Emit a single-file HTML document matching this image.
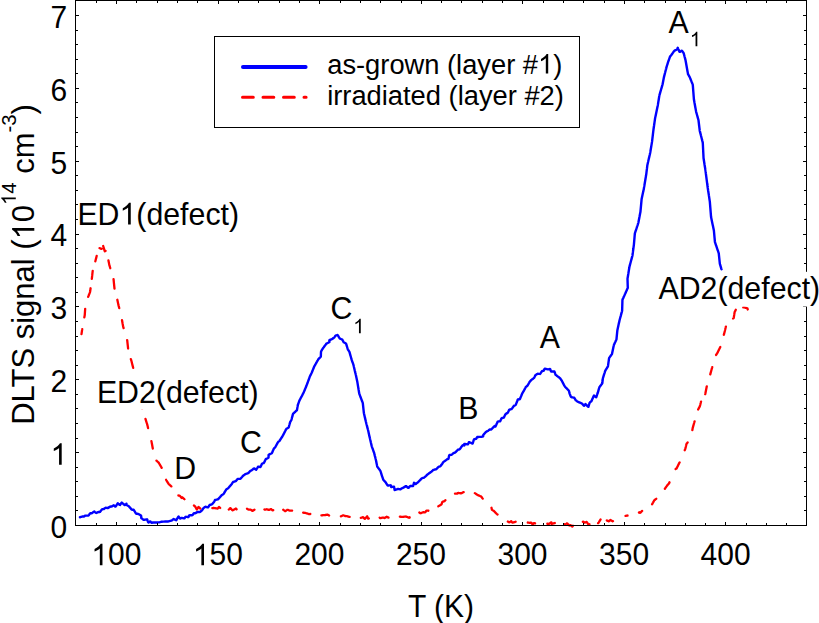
<!DOCTYPE html>
<html><head><meta charset="utf-8"><style>
html,body{margin:0;padding:0;background:#fff;}
body{width:819px;height:623px;overflow:hidden;}
svg{display:block;}
text{font-family:"Liberation Sans",sans-serif;fill:#000;}
</style></head><body>
<svg width="819" height="623" viewBox="0 0 819 623">
<rect width="819" height="623" fill="#fff"/>
<g fill="none" stroke-linejoin="round" stroke-linecap="round">
<path d="M81.49,334.08 L81.57,333.59 L81.64,333.09 L81.71,332.60 L81.78,332.10 L81.86,331.61 L81.93,331.11 L82.00,330.62 L82.07,330.12 L82.15,329.63 L82.22,329.13M84.34,317.33 L84.44,316.83 L84.53,316.34 L84.63,315.85 L84.72,315.36 L84.77,314.86 L84.80,314.37 L84.83,313.87 L84.87,313.37 L84.90,312.87 L84.93,312.37 L84.97,311.87 L85.00,311.37 L85.03,310.87 L85.07,310.37 L85.10,309.88 L85.13,309.38 L85.17,308.88M88.15,296.89 L88.33,296.42 L88.52,295.96 L88.70,295.49 L88.88,295.02 L89.07,294.56 L89.25,294.09 L89.43,293.63 L89.61,293.16 L89.80,292.70 L89.98,292.23 L90.10,291.75 L90.17,291.26 L90.24,290.76 L90.31,290.27 L90.37,289.77 L90.44,289.27 L90.51,288.78 L90.58,288.28M91.83,278.87 L91.88,278.37 L91.94,277.87 L91.99,277.38 L92.05,276.88 L92.10,276.38 L92.15,275.88 L92.21,275.39 L92.26,274.89 L92.32,274.39 L92.37,273.90 L92.42,273.40 L92.48,272.90 L92.53,272.41 L92.59,271.91 L92.64,271.41 L92.70,270.91M95.34,261.28 L95.47,260.80 L95.59,260.32 L95.71,259.83 L95.83,259.34 L95.95,258.86 L96.07,258.37 L96.19,257.89 L96.31,257.40 L96.42,256.92 L96.54,256.43 L96.66,255.94M99.56,248.11 L100.01,248.32 L100.46,248.53 L100.91,248.75 L101.37,248.96 L101.65,248.80M103.18,246.03 L103.33,246.51 L103.47,246.98 L103.61,247.46 L103.76,247.94 L103.90,248.42 L104.05,248.90 L104.19,249.38 L104.34,249.86 L104.48,250.34 L104.63,250.81 L104.77,251.29 L105.16,251.11 L105.58,250.84M108.46,260.45 L108.55,260.94 L108.64,261.43 L108.74,261.92 L108.83,262.41 L108.92,262.90 L109.02,263.39 L109.11,263.89 L109.20,264.38 L109.32,264.86 L109.46,265.34 L109.60,265.82 L109.73,266.30 L109.87,266.78 L110.01,267.26 L110.15,267.74 L110.29,268.23M113.55,279.19 L113.60,279.69 L113.65,280.19 L113.70,280.69 L113.75,281.18 L113.79,281.68 L113.84,282.18 L113.89,282.68 L113.94,283.17 L113.99,283.67 L114.04,284.17 L114.09,284.67 L114.14,285.17 L114.19,285.66 L114.24,286.16 L114.29,286.66 L114.34,287.16 L114.39,287.65 L114.44,288.15 L114.49,288.65M117.34,299.77 L117.44,300.26 L117.55,300.75 L117.65,301.24 L117.75,301.72 L117.86,302.21 L117.96,302.70 L118.07,303.19 L118.17,303.68 L118.28,304.17 L118.38,304.66 L118.49,305.15 L118.61,305.63 L118.73,306.12 L118.86,306.60 L118.98,307.09 L119.10,307.57 L119.22,308.06M122.03,320.23 L122.12,320.72 L122.20,321.21 L122.29,321.71 L122.37,322.20 L122.46,322.69 L122.54,323.19 L122.63,323.68 L122.72,324.17 L122.80,324.66 L122.89,325.16 L122.97,325.65 L123.06,326.14 L123.17,326.63 L123.32,327.11 L123.46,327.59 L123.60,328.06M127.15,340.05 L127.25,340.54 L127.31,341.03 L127.36,341.53 L127.41,342.03 L127.46,342.53 L127.52,343.02 L127.57,343.52 L127.62,344.02 L127.67,344.51 L127.73,345.01 L127.78,345.51 L127.83,346.01 L127.88,346.50 L127.94,347.00 L127.99,347.50 L128.04,348.00 L128.09,348.49M130.87,359.09 L131.02,359.57 L131.17,360.05 L131.32,360.52 L131.47,361.00 L131.59,361.49 L131.71,361.97 L131.83,362.46 L131.95,362.94 L132.07,363.43 L132.19,363.91 L132.31,364.40 L132.43,364.89 L132.55,365.37 L132.67,365.86 L132.79,366.34 L132.91,366.83 L133.03,367.31 L133.15,367.80M134.02,379.66 L134.01,380.16 L134.09,380.66 L134.19,381.15 L134.29,381.63 L134.39,382.12 L134.49,382.61 L134.59,383.10 L134.69,383.59 L134.79,384.08 L134.90,384.57 L135.00,385.06 L135.10,385.55 L135.20,386.04 L135.30,386.53 L135.40,387.02 L135.50,387.51 L135.60,388.00 L135.70,388.49M139.34,399.91 L139.52,400.38 L139.69,400.85 L139.86,401.32 L140.04,401.79 L140.21,402.26 L140.38,402.73 L140.56,403.20 L140.73,403.67 L140.90,404.13 L141.08,404.60 L141.25,405.07 L141.42,405.54 L141.57,406.02 L141.69,406.50 L141.81,406.99 L141.94,407.47 L142.06,407.96 L142.18,408.44M145.47,418.93 L145.63,419.41 L145.78,419.88 L145.92,420.36 L146.07,420.84 L146.22,421.32 L146.37,421.79 L146.51,422.27 L146.66,422.75 L146.81,423.23 L146.96,423.70 L147.11,424.18 L147.25,424.66 L147.40,425.14 L147.51,425.63 L147.62,426.11 L147.73,426.60 L147.83,427.09 L147.94,427.58 L148.05,428.07M151.42,441.12 L151.52,441.62 L151.61,442.11 L151.70,442.60 L151.79,443.09 L151.88,443.58 L151.97,444.07 L152.07,444.57 L152.16,445.06 L152.25,445.55 L152.34,446.04 L152.43,446.53 L152.52,447.02 L152.61,447.51 L152.71,448.01 L152.80,448.50M156.48,460.61 L156.85,460.95 L157.21,461.30 L157.58,461.64 L157.95,461.98 L158.31,462.32 L158.68,462.66 L158.94,463.08 L159.20,463.51 L159.45,463.95 L159.70,464.38 L159.95,464.81 L160.20,465.24 L160.45,465.68 L160.70,466.11 L160.95,466.54 L161.20,466.98 L161.44,467.41 L161.68,467.85M166.09,479.81 L166.33,480.25 L166.60,480.67 L166.86,481.09 L167.13,481.52 L167.39,481.94 L167.66,482.37 L167.92,482.79 L168.19,483.22 L168.45,483.64 L168.74,484.04 L169.11,484.38 L169.48,484.72 L169.85,485.05 L170.22,485.39 L170.59,485.72 L170.96,486.06 L171.33,486.40M178.36,495.52 L178.86,495.55 L179.36,495.57 L179.78,495.73 L180.10,496.12 L180.41,496.51 L180.72,496.90 L181.04,497.29 L181.35,497.68 L181.66,497.93 L181.93,497.51 L182.22,497.26 L182.60,497.59 L182.97,497.92 L183.35,498.25 L183.72,498.59 L184.09,498.92 L184.47,499.25M193.94,505.53 L194.34,505.83 L194.72,506.15 L195.10,506.47 L195.36,506.89 L195.61,507.33 L195.85,507.76 L196.10,508.20 L196.34,508.64 L196.59,509.07 L196.83,509.47 L197.11,509.06 L197.39,508.64 L197.68,508.23 L197.96,507.82 L198.24,507.40 L198.52,506.99 L198.89,507.31 L199.27,507.65 L199.64,507.98 L200.01,508.31 L200.38,508.65M212.35,508.13 L212.85,508.06 L213.34,507.98 L213.83,508.00 L214.33,508.08 L214.82,508.15 L215.32,508.22 L215.81,508.30 L216.31,508.37 L216.80,508.44 L217.30,508.52 L217.76,508.51 L218.07,508.12 L218.39,507.73 L218.70,507.34 L219.01,506.95 L219.38,507.26 L219.74,507.60 L220.11,507.94M228.79,509.49 L229.15,509.30 L229.46,508.91 L229.77,508.52 L230.08,508.13 L230.40,508.11 L230.74,508.48 L231.08,508.85 L231.41,509.22 L231.75,509.59 L232.09,509.96 L232.42,510.33 L232.86,510.15 L233.30,509.92 L233.75,509.69 L234.19,509.46 L234.63,509.23 L235.08,509.00 L235.52,508.77 L235.96,508.54 L236.29,508.82 L236.59,509.22M246.99,508.72 L247.42,508.97 L247.86,509.23 L248.29,509.48 L248.75,509.63 L249.25,509.66 L249.75,509.68 L250.25,509.71 L250.75,509.73 L251.17,509.96 L251.56,510.27 L251.95,510.59 L252.33,510.91 L252.74,510.80 L253.16,510.53 L253.58,510.26 L254.00,509.99 L254.42,509.71M264.42,509.42 L264.87,509.64 L265.32,509.65 L265.79,509.46 L266.25,509.28 L266.72,509.26 L267.20,509.41 L267.67,509.57 L268.15,509.72 L268.63,509.87 L269.09,509.84 L269.55,509.64 L270.01,509.45 L270.47,509.25 L270.93,509.05 L271.32,509.28 L271.69,509.61 L272.07,509.94 L272.44,510.27 L272.82,510.44 L273.19,510.12M283.21,509.78 L283.62,510.06 L284.02,510.35 L284.43,510.64 L284.84,510.93 L285.25,511.19 L285.67,510.92 L286.09,510.64 L286.50,510.37 L286.92,510.10 L287.34,509.82 L287.78,509.81 L288.23,510.03 L288.68,510.24 L289.13,510.45 L289.61,510.57 L290.11,510.58 L290.61,510.59 L291.11,510.61 L291.61,510.62 L292.11,510.63M303.15,512.72 L303.65,512.74 L304.15,512.76 L304.65,512.78 L305.15,512.80 L305.61,512.98 L306.08,513.15 L306.56,513.30 L307.03,513.45 L307.51,513.60 L307.99,513.76 L308.46,513.91 L308.94,514.06 L309.42,514.21 L309.87,514.08 L310.33,513.87M321.41,515.40 L321.90,515.32 L322.40,515.25 L322.89,515.17 L323.39,515.14 L323.89,515.13 L324.39,515.11 L324.89,515.10 L325.38,515.00 L325.87,514.91 L326.36,514.82 L326.85,514.72 L327.34,514.63 L327.79,514.82 L328.23,515.06 L328.66,515.30 L329.10,515.55M340.86,516.29 L341.30,516.17 L341.76,515.96 L342.21,515.75 L342.67,515.54 L343.12,515.34 L343.58,515.28 L344.03,515.49 L344.49,515.69 L344.95,515.89 L345.41,516.09 L345.87,516.22 L346.34,516.06 L346.81,516.10 L347.29,516.26 L347.76,516.42 L348.24,516.58 L348.71,516.73 L349.18,516.89 L349.66,516.84M360.80,517.90 L361.27,517.73 L361.75,517.57 L362.22,517.40 L362.69,517.24 L363.15,517.13 L363.48,517.51 L363.81,517.88 L364.14,518.26 L364.47,518.63 L364.81,518.90 L365.14,518.53 L365.48,518.16 L365.82,517.79 L366.16,517.42 L366.49,517.06 L366.83,516.69 L367.17,516.32 L367.35,516.72 L367.51,517.19 L367.67,517.67 L367.84,518.14 L368.00,518.61 L368.36,518.61 L368.82,518.40M379.65,517.60 L379.96,517.99 L380.34,518.18 L380.83,518.07 L381.32,517.96 L381.81,517.85 L382.29,517.74 L382.78,517.62 L383.27,517.53 L383.72,517.75 L384.17,517.96 L384.61,518.00 L385.03,517.73 L385.45,517.47 L385.87,517.20 L386.29,516.93 L386.72,516.68 L387.16,516.92 L387.60,517.16 L388.04,517.39 L388.48,517.63M399.90,516.62 L400.38,516.74 L400.88,516.77 L401.38,516.81 L401.88,516.84 L402.38,516.88 L402.88,516.85 L403.37,516.80 L403.87,516.75 L404.37,516.70 L404.87,516.65 L405.36,516.54 L405.84,516.52 L406.31,516.69 L406.78,516.86 L407.25,517.04 L407.71,517.21 L408.18,517.39 L408.65,517.56 L409.12,517.74 L409.50,517.71 L409.70,517.25M419.35,512.51 L419.75,512.81 L420.14,513.12 L420.56,513.25 L421.02,513.06 L421.49,512.88 L421.95,512.70 L422.42,512.51 L422.88,512.33 L423.36,512.23 L423.86,512.27 L424.36,512.30 L424.86,512.34 L425.29,512.24 L425.57,511.83 L425.86,511.42 L426.15,511.01 L426.43,510.60 L426.91,510.61 L427.41,510.65 L427.91,510.70 L428.40,510.75M438.33,506.32 L438.76,506.08 L439.20,505.83 L439.64,505.59 L440.07,505.34 L440.50,505.09 L440.93,504.84 L441.37,504.59 L441.59,504.17 L441.74,503.69 L441.89,503.22 L442.05,502.74 L442.20,502.26 L442.42,501.85 L442.90,501.70 L443.37,501.55 L443.85,501.39 L444.32,501.24 L444.70,500.93 L445.03,500.55 L445.36,500.18M454.99,493.62 L455.49,493.63 L455.99,493.65 L456.49,493.66 L456.99,493.67 L457.41,493.55 L457.65,493.11 L458.04,492.94 L458.53,493.00 L459.03,493.06 L459.52,493.13 L460.02,493.19 L460.52,493.25 L461.01,493.31 L461.47,493.17 L461.91,492.93 L462.35,492.69 L462.79,492.45 L463.23,492.21 L463.69,492.07M474.84,493.10 L475.25,493.39 L475.66,493.68 L476.07,493.97 L476.48,494.25 L476.89,494.54 L477.30,494.83 L477.71,495.12 L478.07,495.22 L478.53,495.42 L478.99,495.62 L479.45,495.82 L479.91,496.02 L480.36,496.22 L480.82,496.42 L481.28,496.62 L481.57,497.02 L481.86,497.43 L482.15,497.84 L482.43,498.25 L482.74,498.64M491.49,507.76 L491.59,508.24 L491.70,508.73 L491.81,509.22 L491.91,509.71 L492.22,510.04 L492.66,510.28 L493.11,510.51 L493.55,510.75 L493.95,511.04 L494.30,511.40 L494.64,511.76 L494.99,512.12 L495.34,512.48 L495.68,512.84 L496.03,513.20 L496.38,513.56 L496.72,513.92 L497.13,514.20 L497.56,514.47M507.85,521.58 L508.26,521.85 L508.68,522.13 L509.10,522.40 L509.51,522.26 L509.91,521.97 L510.32,521.68 L510.72,521.38 L511.13,521.09 L511.43,521.44 L511.73,521.85 L512.02,522.25 L512.32,522.65 L512.74,522.65 L513.22,522.50 L513.70,522.35 L514.17,522.20 L514.65,522.05 L515.13,521.90 L515.60,521.74M527.81,522.51 L528.30,522.61 L528.79,522.71 L529.28,522.81 L529.78,522.79 L530.28,522.74 L530.78,522.69 L531.27,522.64 L531.58,523.01 L531.86,523.42 L532.15,523.83 L532.43,524.24 L532.73,524.41 L533.06,524.03 L533.38,523.65 L533.71,523.27 L534.09,523.08 L534.57,523.22 L535.05,523.35M547.36,523.74 L547.76,523.65 L548.20,523.88 L548.64,524.11 L549.06,523.90 L549.46,523.61 L549.87,523.31 L550.27,523.02 L550.67,522.73 L551.08,522.43 L551.39,522.35 L551.46,522.84 L551.53,523.34 L551.60,523.84 L551.94,523.90 L552.42,523.76 L552.89,523.61 L553.37,523.47 L553.85,523.33 L554.33,523.18 L554.81,523.04M564.53,524.19 L564.93,524.49 L565.36,524.37 L565.79,524.12 L566.22,523.86 L566.65,523.61 L567.08,523.35 L567.45,523.69 L567.81,524.03 L568.18,524.37 L568.55,524.71 L568.91,525.05 L569.28,525.39 L569.68,525.48 L570.11,525.24 L570.54,525.10 L570.91,525.44 L571.27,525.78 L571.64,526.12 L572.01,526.46 L572.35,526.53 L572.63,526.13 L572.92,525.72M582.83,521.87 L583.29,521.67 L583.64,521.95 L583.96,522.33 L584.28,522.71 L584.75,522.55 L585.23,522.39 L585.70,522.23 L586.17,522.07 L586.65,521.91 L586.94,522.26 L587.21,522.69 L587.48,523.11 L587.75,523.53 L588.02,523.95 L588.29,524.37 L588.58,524.71 L589.03,524.49 L589.48,524.26M598.11,523.19 L598.48,522.85 L598.76,522.43 L599.02,522.01 L599.28,521.58 L599.54,521.15 L599.80,520.73 L600.06,520.30 L600.32,519.88 L600.59,519.45M606.82,520.40 L607.26,520.63 L607.71,520.86 L608.15,521.09 L608.59,521.32 L608.99,521.20 L609.36,520.86 L609.73,520.53 L610.10,520.19 L610.48,520.00 L610.91,520.26 L611.33,520.53 L611.76,520.79 L612.18,521.05 L612.61,521.31 L612.98,521.09M625.57,515.94 L626.06,515.83 L626.54,515.73 L627.03,515.62 L627.52,515.52M638.96,512.59 L639.28,512.21 L639.65,512.46 L640.02,512.79 L640.38,512.71 L640.73,512.35 L641.07,511.99 L641.42,511.62 L641.76,511.26 L642.11,510.90M652.10,504.29 L652.34,503.85 L652.58,503.41 L652.82,502.97 L653.07,502.54 L653.31,502.10 L653.55,501.66 L653.79,501.22 L654.03,500.79 L654.28,500.35 L654.63,500.01 L655.03,499.71 L655.43,499.41 L655.83,499.11 L656.23,498.81M664.86,488.75 L665.15,488.34 L665.45,487.93 L665.74,487.52 L666.03,487.12 L666.32,486.71 L666.61,486.30 L666.90,485.90 L667.19,485.49 L667.48,485.08 L667.79,484.69 L668.14,484.33 L668.49,483.98 L668.84,483.62 L669.12,483.22 L669.31,482.76 L669.51,482.30M675.61,469.10 L676.04,468.84 L676.47,468.58 L676.72,468.16 L676.94,467.71 L677.16,467.26 L677.38,466.81 L677.60,466.37 L677.82,465.92 L678.04,465.47 L678.26,465.02 L678.48,464.57 L678.70,464.12 L678.92,463.67 L679.14,463.22 L679.37,462.78 L679.66,462.38M684.71,450.23 L684.92,449.77 L685.12,449.32 L685.31,448.86 L685.42,448.37 L685.54,447.88 L685.65,447.39 L685.77,446.91 L685.88,446.42 L685.99,445.93 L686.11,445.45 L686.22,444.96 L686.33,444.47 L686.45,443.99 L686.70,443.57 L687.02,443.18 L687.34,442.80 L687.65,442.41M692.37,430.05 L692.45,429.56 L692.53,429.07 L692.60,428.57 L692.69,428.08 L692.82,427.60 L692.96,427.12 L693.09,426.64 L693.23,426.15 L693.36,425.67 L693.50,425.19 L693.63,424.71 L693.77,424.23 L693.91,423.75 L694.04,423.27 L694.18,422.79 L694.31,422.30 L694.45,421.82 L694.58,421.34M698.14,409.47 L698.38,409.03 L698.62,408.59 L698.85,408.15 L699.09,407.71 L699.32,407.27 L699.56,406.83 L699.80,406.39 L699.95,405.92 L700.07,405.43 L700.20,404.95 L700.32,404.46 L700.44,403.98 L700.56,403.49 L700.69,403.01 L700.81,402.52 L700.93,402.04 L701.05,401.55M705.20,394.18 L705.32,393.69 L705.42,393.20 L705.51,392.71 L705.61,392.22 L705.71,391.73 L705.81,391.24 L705.91,390.75 L706.01,390.26 L706.10,389.77 L706.20,389.28 L706.30,388.79 L706.40,388.30 L706.50,387.81 L706.59,387.32 L706.69,386.83 L706.79,386.34M710.26,374.34 L710.40,373.86 L710.53,373.38 L710.66,372.90 L710.79,372.42 L710.93,371.93 L711.06,371.45 L711.19,370.97 L711.32,370.49 L711.45,370.00 L711.59,369.52 L711.72,369.04 L711.85,368.56 L711.98,368.08 L712.12,367.59 L712.24,367.11M716.09,354.93 L716.37,354.51 L716.65,354.10 L716.93,353.68 L717.21,353.27 L717.44,352.83 L717.66,352.38 L717.88,351.93 L718.10,351.48 L718.32,351.03 L718.54,350.58 L718.76,350.13 L718.98,349.68 L719.20,349.24 L719.42,348.79 L719.64,348.34 L719.86,347.89 L720.08,347.44 L720.30,346.99M723.84,334.84 L723.96,334.36 L724.08,333.87 L724.21,333.39 L724.33,332.91 L724.46,332.42 L724.58,331.94 L724.70,331.45 L724.83,330.97 L724.95,330.48 L725.07,330.00 L725.20,329.51 L725.31,329.03 L725.43,328.54 L725.54,328.05 L725.66,327.57 L725.77,327.08 L725.89,326.59M733.08,318.50 L733.54,318.30 L733.75,317.91 L733.83,317.42 L733.90,316.92 L733.98,316.43 L734.05,315.94 L734.12,315.44 L734.20,314.95 L734.27,314.45 L734.34,313.96 L734.42,313.46 L734.49,312.97 L734.57,312.47 L734.66,311.99 L734.89,311.54 L735.12,311.10 L735.35,310.65 L735.57,310.21 L735.80,309.76M743.25,307.32 L743.74,307.39 L744.24,307.45 L744.73,307.53 L745.21,307.67 L745.69,307.81 L746.17,307.95 L746.65,308.09 L747.13,308.23 L747.49,308.49 L747.62,308.98 L747.75,309.46" stroke="#ff0000" stroke-width="2.3"/>
<path d="M79.92,517.25 L80.40,517.11 L80.88,516.96 L81.36,516.82 L81.84,516.68 L82.32,516.54 L82.81,516.52 L83.31,516.53 L83.81,516.55 L84.27,516.43 L84.65,516.10 L85.03,515.78 L85.49,515.67 L85.99,515.65 L86.49,515.63 L86.99,515.61 L87.49,515.59 L87.99,515.57 L88.48,515.53 L88.78,515.13 L89.09,514.74 L89.39,514.34 L89.70,513.94 L90.00,513.55 L90.38,513.31 L90.88,513.32 L91.38,513.34 L91.83,513.18 L92.24,512.90 L92.65,512.61 L93.06,512.32 L93.47,512.04 L93.88,511.75 L94.29,511.49 L94.68,511.81 L95.06,512.13 L95.45,512.44 L95.84,512.76 L96.24,512.96 L96.69,512.75 L97.14,512.54 L97.60,512.33 L98.05,512.12 L98.54,512.06 L99.04,512.03 L99.54,511.99 L100.00,511.88 L100.31,511.49 L100.63,511.10 L100.94,510.71 L101.25,510.32 L101.56,509.93 L101.87,509.54 L102.18,509.15 L102.64,509.11 L103.14,509.17 L103.61,509.13 L104.03,508.87 L104.46,508.60 L104.88,508.33 L105.30,508.06 L105.72,507.79 L106.19,507.82 L106.68,507.93 L107.17,508.05 L107.65,508.14 L108.08,507.89 L108.51,507.63 L108.94,507.38 L109.37,507.12 L109.80,506.87 L110.23,506.61 L110.72,506.54 L111.22,506.50 L111.71,506.45 L112.17,506.28 L112.58,506.00 L113.00,505.72 L113.41,505.44 L113.82,505.28 L114.18,505.62 L114.55,505.96 L114.92,506.30 L115.28,506.64 L115.60,506.57 L115.87,506.15 L116.14,505.73 L116.42,505.31 L116.69,504.89 L116.96,504.47 L117.23,504.05 L117.50,503.64 L117.78,503.24 L118.16,503.56 L118.54,503.89 L118.92,504.22 L119.30,504.54 L119.68,504.87 L120.03,504.94 L120.32,504.54 L120.62,504.13 L120.91,503.73 L121.21,503.33 L121.50,502.92 L121.80,502.61 L122.18,502.94 L122.55,503.28 L122.92,503.61 L123.30,503.94 L123.67,504.27 L124.04,504.61 L124.42,504.94 L124.79,505.11 L125.16,504.78 L125.53,504.44 L125.91,504.11 L126.28,503.77 L126.50,503.71 L126.41,504.20 L126.32,504.70 L126.59,505.02 L127.03,505.26 L127.47,505.50 L127.90,505.73 L128.34,505.97 L128.78,506.21 L129.11,506.59 L129.44,506.96 L129.77,507.34 L130.10,507.72 L130.43,508.09 L130.75,508.47 L131.08,508.85 L131.41,509.23 L131.74,509.60 L132.20,509.70 L132.70,509.72 L133.20,509.73 L133.68,509.77 L133.94,510.20 L134.20,510.63 L134.46,511.05 L134.72,511.48 L134.98,511.91 L135.24,512.34 L135.50,512.76 L135.75,513.19 L136.01,513.62 L136.48,513.72 L136.98,513.76 L137.47,513.80 L137.97,513.84 L138.41,514.06 L138.84,514.32 L139.27,514.58 L139.70,514.83 L140.13,515.09 L140.56,515.34 L140.99,515.60 L141.20,515.98 L141.21,516.48 L141.23,516.98 L141.24,517.48 L141.25,517.98 L141.62,518.30 L142.01,518.61 L142.41,518.92 L142.80,519.23 L143.20,519.53 L143.59,519.84 L144.06,519.85 L144.55,519.76 L145.04,519.67 L145.54,519.58 L146.03,519.49 L146.52,519.40 L147.01,519.31 L147.27,519.62 L147.43,520.09 L147.59,520.57 L147.76,521.04 L147.92,521.51 L148.09,521.98 L148.25,522.45 L148.58,522.45 L149.00,522.17 L149.42,521.90 L149.84,521.63 L150.26,521.36 L150.58,521.65 L150.89,522.05 L151.19,522.44 L151.50,522.84 L151.90,522.86 L152.36,522.66 L152.82,522.46 L153.31,522.42 L153.81,522.44 L154.31,522.45 L154.81,522.46 L155.31,522.48 L155.81,522.49 L156.31,522.48 L156.81,522.46 L157.31,522.43 L157.81,522.41 L158.31,522.39 L158.81,522.38 L159.30,522.33 L159.79,522.20 L160.27,522.06 L160.75,521.93 L161.23,521.79 L161.72,521.71 L162.22,521.68 L162.72,521.66 L163.22,521.64 L163.72,521.61 L164.22,521.59 L164.72,521.57 L165.22,521.55 L165.72,521.55 L166.22,521.55 L166.72,521.55 L167.22,521.55 L167.72,521.55 L168.20,521.46 L168.69,521.33 L169.17,521.20 L169.66,521.08 L170.14,520.94 L170.62,520.80 L171.09,520.65 L171.57,520.50 L172.03,520.31 L172.42,520.00 L172.80,519.68 L173.19,519.37 L173.58,519.05 L174.02,519.21 L174.48,519.43 L174.93,519.64 L175.38,519.85 L175.83,520.07 L176.28,520.27 L176.53,519.84 L176.77,519.40 L177.02,518.97 L177.27,518.53 L177.52,518.10 L177.76,517.67 L178.01,517.23 L178.26,516.80 L178.51,516.52 L178.81,516.92 L179.11,517.32 L179.41,517.72 L179.70,518.13 L180.00,518.53 L180.38,518.52 L180.81,518.26 L181.24,518.01 L181.70,517.94 L182.20,518.02 L182.69,518.11 L183.18,518.19 L183.68,518.28 L184.17,518.36 L184.55,518.15 L184.85,517.76 L185.16,517.36 L185.46,516.96 L185.86,516.79 L186.35,516.86 L186.85,516.93 L187.34,517.00 L187.84,517.07 L188.33,517.14 L188.60,516.81 L188.81,516.36 L189.01,515.90 L189.22,515.44 L189.63,515.29 L190.13,515.27 L190.63,515.26 L191.13,515.24 L191.62,515.22 L192.12,515.21 L192.56,515.07 L192.84,514.66 L193.13,514.25 L193.42,513.84 L193.70,513.43 L194.05,513.14 L194.54,513.19 L195.04,513.24 L195.50,513.09 L195.94,512.85 L196.38,512.62 L196.82,512.38 L197.26,512.15 L197.70,511.91 L198.20,511.93 L198.70,511.97 L199.20,512.01 L199.69,512.05 L200.14,511.92 L200.52,511.60 L200.90,511.27 L201.28,510.95 L201.67,510.63 L202.05,510.31 L202.33,509.89 L202.59,509.47 L202.86,509.05 L203.13,508.63 L203.42,508.23 L203.81,507.91 L204.19,507.59 L204.58,507.27 L204.96,506.95 L205.37,506.74 L205.85,506.87 L206.34,506.99 L206.82,507.12 L207.30,507.25 L207.79,507.38 L208.17,507.25 L208.44,506.83 L208.72,506.41 L208.99,505.99 L209.26,505.57 L209.53,505.15 L209.94,504.91 L210.42,504.78 L210.90,504.65 L211.39,504.53 L211.87,504.40 L212.25,504.11 L212.56,503.72 L212.88,503.33 L213.19,502.94 L213.50,502.55 L213.81,502.16 L214.13,501.77 L214.41,501.37 L214.60,500.90 L214.78,500.44 L215.01,500.03 L215.50,499.91 L215.98,499.80 L216.47,499.68 L216.96,499.57 L217.44,499.45 L217.93,499.34 L218.31,499.04 L218.64,498.67 L218.97,498.29 L219.31,497.92 L219.64,497.55 L219.97,497.17 L220.30,496.80 L220.64,496.42 L220.95,496.04 L221.27,495.65 L221.58,495.26 L221.96,494.95 L222.40,494.71 L222.84,494.48 L223.28,494.24 L223.61,493.88 L223.87,493.46 L224.12,493.03 L224.38,492.60 L224.64,492.17 L224.90,491.75 L225.16,491.32 L225.42,490.89 L225.68,490.46 L225.94,490.04 L226.20,489.61 L226.52,489.24 L226.94,488.98 L227.37,488.72 L227.80,488.46 L228.19,488.16 L228.52,487.78 L228.84,487.40 L229.17,487.02 L229.50,486.64 L229.82,486.26 L230.15,485.89 L230.47,485.51 L230.80,485.13 L231.12,484.74 L231.45,484.36 L231.76,483.98 L232.03,483.56 L232.31,483.14 L232.58,482.72 L232.85,482.30 L233.19,481.97 L233.66,481.81 L234.14,481.66 L234.62,481.51 L235.09,481.36 L235.57,481.21 L235.98,480.96 L236.29,480.57 L236.60,480.18 L236.91,479.79 L237.22,479.39 L237.53,479.00 L237.95,478.84 L238.45,478.84 L238.95,478.84 L239.45,478.84 L239.95,478.85 L240.43,478.80 L240.76,478.42 L241.09,478.05 L241.42,477.67 L241.75,477.30 L242.08,476.92 L242.40,476.53 L242.71,476.15 L243.06,475.79 L243.46,475.49 L243.86,475.20 L244.27,474.90 L244.67,474.61 L245.08,474.32 L245.52,474.10 L245.99,473.93 L246.46,473.75 L246.93,473.58 L247.40,473.40 L247.87,473.23 L248.33,473.05 L248.70,472.72 L249.03,472.35 L249.36,471.97 L249.68,471.59 L250.01,471.22 L250.35,470.85 L250.82,470.69 L251.29,470.53 L251.72,470.29 L252.10,469.96 L252.47,469.63 L252.85,469.30 L253.23,468.97 L253.60,468.64 L253.99,468.40 L254.42,468.65 L254.86,468.90 L255.29,469.15 L255.72,469.40 L256.16,469.65 L256.44,469.29 L256.72,468.87 L257.00,468.45 L257.27,468.03 L257.55,467.62 L257.82,467.20 L258.10,466.78 L258.51,466.68 L259.00,466.78 L259.49,466.87 L259.98,466.97 L260.46,467.03 L260.67,466.58 L260.88,466.13 L261.09,465.68 L261.31,465.22 L261.52,464.77 L261.73,464.32 L261.94,463.86 L262.25,463.52 L262.72,463.36 L263.20,463.21 L263.67,463.05 L264.00,462.72 L264.22,462.28 L264.45,461.83 L264.67,461.38 L264.89,460.93 L265.11,460.49 L265.34,460.04 L265.56,459.59 L265.80,459.16 L266.24,458.92 L266.68,458.69 L267.12,458.45 L267.56,458.21 L268.00,457.97 L268.44,457.74 L268.56,457.30 L268.56,456.80 L268.56,456.30 L268.57,455.80 L268.57,455.30 L268.61,454.83 L269.06,454.60 L269.50,454.38 L269.95,454.16 L270.40,453.94 L270.85,453.72 L271.30,453.50 L271.74,453.27 L272.00,452.87 L272.20,452.41 L272.40,451.95 L272.60,451.49 L272.80,451.03 L273.00,450.58 L273.20,450.12 L273.40,449.66 L273.60,449.20 L273.80,448.74 L274.06,448.32 L274.43,448.00 L274.81,447.67 L275.14,447.30 L275.39,446.87 L275.63,446.43 L275.88,446.00 L276.12,445.56 L276.36,445.12 L276.61,444.69 L276.85,444.25 L277.10,443.81 L277.34,443.38 L277.58,442.94 L277.83,442.50 L278.07,442.07 L278.43,441.73 L278.82,441.42 L279.21,441.10 L279.58,440.77 L279.85,440.35 L280.12,439.93 L280.39,439.51 L280.66,439.08 L280.92,438.66 L281.19,438.24 L281.46,437.82 L281.73,437.40 L282.00,436.98 L282.27,436.55 L282.53,436.13 L282.77,435.69 L283.01,435.25 L283.25,434.81 L283.49,434.37 L283.73,433.93 L283.96,433.49 L284.19,433.05 L284.42,432.60 L284.64,432.16 L284.87,431.71 L285.10,431.27 L285.32,430.82 L285.55,430.37 L285.78,429.93 L286.01,429.48 L286.23,429.04 L286.58,428.71 L287.02,428.46 L287.45,428.22 L287.89,427.97 L288.32,427.72 L288.68,427.42 L288.82,426.93 L288.95,426.45 L289.08,425.97 L289.21,425.49 L289.35,425.01 L289.48,424.52 L289.61,424.04 L289.75,423.56 L289.88,423.08 L290.01,422.60 L290.14,422.11 L290.39,421.68 L290.65,421.25 L290.90,420.82 L291.16,420.39 L291.40,419.96 L291.53,419.47 L291.66,418.99 L291.79,418.51 L291.91,418.02 L292.04,417.54 L292.17,417.06 L292.30,416.57 L292.42,416.09 L292.55,415.61 L292.68,415.12 L292.80,414.64 L292.93,414.16 L293.14,413.72 L293.51,413.38 L293.87,413.04 L294.24,412.70 L294.60,412.36 L294.97,412.01 L295.33,411.67 L295.70,411.33 L296.06,410.99 L296.43,410.65 L296.79,410.31 L297.02,409.89 L297.10,409.39 L297.18,408.90 L297.26,408.41 L297.35,407.91 L297.43,407.42 L297.51,406.93 L297.60,406.44 L297.68,405.94 L297.76,405.45 L297.84,404.96 L298.00,404.48 L298.18,404.01 L298.35,403.55 L298.52,403.08 L298.69,402.61 L298.87,402.14 L299.04,401.67 L299.21,401.20 L299.38,400.73 L299.57,400.27 L299.81,399.83 L300.05,399.39 L300.28,398.95 L300.52,398.50 L300.75,398.06 L300.99,397.62 L301.23,397.18 L301.46,396.74 L301.70,396.30 L301.94,395.86 L302.16,395.42 L302.39,394.97 L302.62,394.52 L302.84,394.08 L303.07,393.63 L303.29,393.19 L303.52,392.74 L303.75,392.29 L303.95,391.84 L304.14,391.37 L304.33,390.91 L304.52,390.45 L304.71,389.99 L304.90,389.53 L305.09,389.06 L305.28,388.60 L305.48,388.14 L305.67,387.68 L305.86,387.22 L306.05,386.75 L306.24,386.29 L306.43,385.83 L306.61,385.36 L306.78,384.89 L306.96,384.42 L307.13,383.96 L307.31,383.49 L307.48,383.02 L307.66,382.55 L307.83,382.08 L308.00,381.61 L308.17,381.14 L308.34,380.67 L308.52,380.20 L308.69,379.73 L308.86,379.26 L309.03,378.79 L309.20,378.32 L309.37,377.85 L309.54,377.38 L309.71,376.91 L309.88,376.44 L310.09,375.99 L310.31,375.54 L310.54,375.10 L310.77,374.66 L311.00,374.21 L311.23,373.77 L311.46,373.32 L311.65,372.86 L311.84,372.40 L312.03,371.93 L312.22,371.47 L312.41,371.01 L312.59,370.55 L312.78,370.08 L312.97,369.62 L313.16,369.16 L313.35,368.69 L313.54,368.23 L313.72,367.77 L313.91,367.30 L314.10,366.84 L314.31,366.39 L314.56,365.95 L314.80,365.52 L315.04,365.08 L315.29,364.64 L315.53,364.21 L315.78,363.77 L316.02,363.33 L316.26,362.90 L316.51,362.46 L316.75,362.02 L317.00,361.59 L317.24,361.15 L317.48,360.71 L317.73,360.28 L317.97,359.84 L318.22,359.40 L318.52,359.01 L318.87,358.65 L319.22,358.30 L319.57,357.94 L319.91,357.58 L320.26,357.22 L320.61,356.86 L320.84,356.45 L320.86,355.95 L320.88,355.45 L320.89,354.95 L320.91,354.45 L320.93,353.96 L320.94,353.46 L320.96,352.96 L320.98,352.46 L321.00,351.96 L321.09,351.48 L321.33,351.04 L321.57,350.60 L321.81,350.17 L322.06,349.73 L322.30,349.29 L322.56,348.87 L322.86,348.46 L323.15,348.06 L323.44,347.65 L323.74,347.25 L324.03,346.84 L324.33,346.44 L324.62,346.04 L324.91,345.63 L325.21,345.23 L325.50,344.82 L325.80,344.42 L326.09,344.01 L326.43,343.66 L326.88,343.44 L327.32,343.21 L327.77,342.98 L328.21,342.75 L328.66,342.52 L329.10,342.29 L329.44,342.01 L329.41,341.51 L329.38,341.01 L329.35,340.51 L329.36,340.04 L329.84,339.90 L330.32,339.76 L330.80,339.62 L331.26,339.45 L331.69,339.18 L332.11,338.92 L332.54,338.65 L332.96,338.39 L333.38,338.12 L333.81,337.86 L334.23,337.59 L334.51,337.18 L334.76,336.75 L335.02,336.32 L335.28,335.90 L335.64,335.60 L336.12,335.44 L336.59,335.29 L337.07,335.13 L337.54,334.98 L337.84,335.31 L338.09,335.74 L338.35,336.17 L338.61,336.60 L338.87,337.03 L339.12,337.46 L339.38,337.88 L339.64,338.31 L340.04,338.59 L340.49,338.80 L340.95,339.01 L341.40,339.22 L341.85,339.43 L342.28,339.67 L342.52,340.11 L342.76,340.55 L343.00,340.98 L343.24,341.42 L343.48,341.86 L343.75,342.27 L344.18,342.52 L344.61,342.77 L345.05,343.02 L345.48,343.28 L345.91,343.53 L346.17,343.91 L346.32,344.39 L346.46,344.87 L346.61,345.35 L346.75,345.83 L346.90,346.31 L347.04,346.78 L347.18,347.26 L347.33,347.74 L347.47,348.22 L347.62,348.70 L347.76,349.18 L347.98,349.62 L348.26,350.04 L348.53,350.46 L348.80,350.88 L349.07,351.30 L349.34,351.72 L349.51,352.18 L349.65,352.67 L349.79,353.15 L349.92,353.63 L350.06,354.11 L350.20,354.59 L350.33,355.07 L350.47,355.55 L350.61,356.03 L350.74,356.51 L350.88,356.99 L351.02,357.48 L351.15,357.96 L351.29,358.44 L351.43,358.92 L351.56,359.40 L351.70,359.88 L351.86,360.35 L352.03,360.82 L352.20,361.30 L352.36,361.77 L352.53,362.24 L352.70,362.71 L352.86,363.18 L353.03,363.65 L353.20,364.12 L353.36,364.60 L353.48,365.08 L353.59,365.57 L353.71,366.06 L353.83,366.54 L353.94,367.03 L354.06,367.51 L354.17,368.00 L354.29,368.49 L354.41,368.97 L354.52,369.46 L354.64,369.95 L354.76,370.43 L354.87,370.92 L354.99,371.40 L355.11,371.89 L355.22,372.38 L355.34,372.86 L355.45,373.35 L355.57,373.84 L355.69,374.32 L355.80,374.81 L355.92,375.29 L356.03,375.78 L356.13,376.27 L356.24,376.76 L356.34,377.25 L356.45,377.74 L356.56,378.23 L356.66,378.71 L356.77,379.20 L356.87,379.69 L356.98,380.18 L357.09,380.67 L357.19,381.16 L357.29,381.65 L357.37,382.14 L357.45,382.64 L357.53,383.13 L357.61,383.62 L357.69,384.12 L357.77,384.61 L357.85,385.10 L357.94,385.60 L358.02,386.09 L358.10,386.58 L358.18,387.08 L358.26,387.57 L358.34,388.06 L358.42,388.56 L358.50,389.05 L358.58,389.54 L358.66,390.04 L358.75,390.53 L358.83,391.02 L358.91,391.52 L358.99,392.01 L359.07,392.50 L359.15,393.00 L359.23,393.49 L359.37,393.97 L359.55,394.44 L359.72,394.90 L359.90,395.37 L360.08,395.84 L360.26,396.31 L360.43,396.77 L360.61,397.24 L360.79,397.71 L360.97,398.18 L361.14,398.64 L361.32,399.11 L361.50,399.58 L361.68,400.04 L361.85,400.51 L362.03,400.98 L362.21,401.45 L362.39,401.91 L362.56,402.38 L362.74,402.85 L362.83,403.34 L362.89,403.83 L362.94,404.33 L362.99,404.83 L363.05,405.33 L363.10,405.82 L363.16,406.32 L363.21,406.82 L363.26,407.31 L363.32,407.81 L363.37,408.31 L363.42,408.81 L363.48,409.30 L363.53,409.80 L363.59,410.30 L363.64,410.79 L363.69,411.29 L363.75,411.79 L363.80,412.29 L363.85,412.78 L363.93,413.28 L364.04,413.76 L364.15,414.25 L364.27,414.74 L364.38,415.22 L364.49,415.71 L364.60,416.20 L364.72,416.69 L364.83,417.17 L364.94,417.66 L365.05,418.15 L365.17,418.63 L365.28,419.12 L365.39,419.61 L365.51,420.10 L365.62,420.58 L365.73,421.07 L365.84,421.56 L365.96,422.04 L366.09,422.53 L366.21,423.01 L366.34,423.49 L366.46,423.98 L366.59,424.46 L366.71,424.95 L366.84,425.43 L366.96,425.92 L367.09,426.40 L367.21,426.88 L367.34,427.37 L367.46,427.85 L367.59,428.34 L367.71,428.82 L367.84,429.30 L367.96,429.79 L368.09,430.27 L368.21,430.76 L368.32,431.24 L368.43,431.73 L368.54,432.22 L368.65,432.71 L368.75,433.20 L368.86,433.69 L368.97,434.17 L369.08,434.66 L369.18,435.15 L369.29,435.64 L369.40,436.13 L369.51,436.62 L369.61,437.10 L369.72,437.59 L369.84,438.08 L369.95,438.57 L370.07,439.05 L370.18,439.54 L370.30,440.02 L370.41,440.51 L370.53,441.00 L370.64,441.48 L370.76,441.97 L370.87,442.46 L370.99,442.94 L371.10,443.43 L371.22,443.92 L371.33,444.40 L371.45,444.89 L371.56,445.38 L371.68,445.86 L371.80,446.35 L371.96,446.82 L372.13,447.29 L372.30,447.76 L372.46,448.24 L372.63,448.71 L372.79,449.18 L372.96,449.65 L373.13,450.12 L373.29,450.59 L373.46,451.07 L373.62,451.54 L373.79,452.01 L373.95,452.48 L374.12,452.95 L374.26,453.43 L374.38,453.92 L374.50,454.40 L374.62,454.89 L374.74,455.37 L374.86,455.86 L374.99,456.34 L375.11,456.83 L375.23,457.31 L375.35,457.80 L375.47,458.28 L375.59,458.77 L375.72,459.25 L375.84,459.74 L375.96,460.22 L376.08,460.71 L376.18,461.20 L376.27,461.69 L376.37,462.18 L376.47,462.67 L376.56,463.16 L376.66,463.65 L376.75,464.14 L376.85,464.63 L376.95,465.12 L377.04,465.62 L377.14,466.11 L377.25,466.59 L377.54,466.99 L377.84,467.40 L378.14,467.80 L378.43,468.20 L378.73,468.60 L379.03,469.01 L379.32,469.41 L379.62,469.81 L379.92,470.21 L380.21,470.62 L380.47,471.04 L380.61,471.52 L380.76,472.00 L380.90,472.47 L381.05,472.95 L381.20,473.43 L381.34,473.91 L381.49,474.39 L381.64,474.86 L381.80,475.34 L381.96,475.81 L382.12,476.28 L382.28,476.76 L382.44,477.23 L382.60,477.71 L382.76,478.18 L382.92,478.65 L383.08,479.13 L383.24,479.60 L383.53,480.00 L383.87,480.37 L384.21,480.73 L384.55,481.10 L384.89,481.46 L385.23,481.83 L385.53,482.22 L385.80,482.64 L386.08,483.06 L386.35,483.48 L386.62,483.90 L386.89,484.32 L387.16,484.74 L387.43,485.16 L387.72,485.56 L388.21,485.51 L388.71,485.47 L389.21,485.42 L389.71,485.38 L390.21,485.34 L390.70,485.29 L390.95,485.57 L391.03,486.07 L391.12,486.56 L391.20,487.05 L391.63,487.05 L392.12,486.94 L392.61,486.84 L393.10,486.74 L393.59,486.64 L394.03,486.61 L394.11,487.11 L394.20,487.60 L394.29,488.09 L394.37,488.58 L394.46,489.08 L394.55,489.57 L394.63,490.06 L395.07,489.94 L395.54,489.77 L396.01,489.60 L396.48,489.43 L396.95,489.26 L397.42,489.09 L397.89,488.92 L398.39,488.99 L398.88,489.08 L399.37,489.17 L399.86,489.26 L400.35,489.35 L400.77,489.13 L401.17,488.83 L401.57,488.53 L401.99,488.27 L402.44,488.05 L402.89,487.83 L403.35,487.62 L403.78,487.38 L404.21,487.12 L404.64,486.86 L405.07,486.60 L405.50,486.35 L405.93,486.09 L406.31,486.24 L406.68,486.57 L407.05,486.91 L407.42,487.25 L407.79,487.59 L408.16,487.92 L408.51,487.90 L408.84,487.52 L409.17,487.14 L409.50,486.77 L409.83,486.39 L410.15,486.01 L410.57,485.85 L411.07,485.90 L411.56,485.95 L412.06,486.00 L412.56,486.05 L413.05,486.10 L413.22,485.67 L413.35,485.19 L413.48,484.71 L413.61,484.22 L413.74,483.74 L413.87,483.26 L414.00,482.78 L414.27,482.82 L414.62,483.17 L414.97,483.53 L415.33,483.88 L415.69,484.03 L416.09,483.72 L416.48,483.41 L416.87,483.11 L417.27,482.80 L417.66,482.49 L418.04,482.16 L418.39,481.81 L418.75,481.46 L419.10,481.10 L419.46,480.75 L419.81,480.40 L420.16,480.04 L420.51,479.68 L420.85,479.32 L421.20,478.96 L421.55,478.60 L421.89,478.24 L422.34,478.06 L422.83,477.95 L423.31,477.84 L423.80,477.72 L424.21,477.45 L424.59,477.13 L424.98,476.81 L425.36,476.49 L425.75,476.17 L426.12,475.84 L426.45,475.46 L426.78,475.09 L427.15,474.76 L427.56,474.46 L427.96,474.16 L428.36,473.86 L428.76,473.56 L429.16,473.26 L429.56,472.97 L429.96,472.67 L430.36,472.37 L430.78,472.10 L431.21,471.84 L431.63,471.56 L431.98,471.21 L432.34,470.86 L432.70,470.51 L433.05,470.16 L433.48,469.93 L433.96,469.79 L434.44,469.65 L434.92,469.51 L435.40,469.38 L435.88,469.24 L436.35,469.08 L436.70,468.72 L437.05,468.37 L437.40,468.01 L437.75,467.66 L438.11,467.30 L438.46,466.95 L438.85,466.66 L439.34,466.56 L439.83,466.45 L440.28,466.29 L440.59,465.90 L440.90,465.51 L441.22,465.12 L441.53,464.73 L441.84,464.33 L442.14,463.93 L442.41,463.51 L442.68,463.09 L442.95,462.67 L443.23,462.25 L443.57,461.90 L443.97,461.61 L444.38,461.32 L444.79,461.03 L445.19,460.73 L445.60,460.44 L446.00,460.15 L446.41,459.86 L446.82,459.57 L447.22,459.28 L447.63,458.99 L448.13,458.94 L448.49,458.74 L448.59,458.25 L448.69,457.76 L448.79,457.27 L448.89,456.78 L448.99,456.29 L449.09,455.80 L449.19,455.31 L449.48,455.03 L449.98,454.96 L450.47,454.89 L450.97,454.83 L451.46,454.75 L451.86,454.45 L452.25,454.14 L452.65,453.84 L453.04,453.53 L453.44,453.23 L453.84,452.92 L454.30,452.80 L454.80,452.77 L455.21,452.53 L455.56,452.17 L455.90,451.82 L456.25,451.46 L456.60,451.10 L456.95,450.75 L457.30,450.39 L457.65,450.03 L458.00,449.67 L458.48,449.56 L458.97,449.46 L459.46,449.36 L459.83,449.07 L460.12,448.66 L460.42,448.26 L460.71,447.85 L461.00,447.45 L461.29,447.04 L461.58,446.64 L461.88,446.23 L462.17,445.83 L462.46,445.42 L462.82,445.18 L463.30,445.29 L463.79,445.40 L464.28,445.52 L464.47,445.29 L464.41,444.80 L464.35,444.30 L464.34,443.85 L464.83,443.92 L465.33,444.00 L465.82,444.07 L466.32,444.14 L466.81,444.22 L467.30,444.29 L467.80,444.36 L468.09,444.06 L468.28,443.60 L468.48,443.15 L468.68,442.69 L468.87,442.23 L469.23,442.16 L469.68,442.36 L470.14,442.56 L470.60,442.76 L471.06,442.96 L471.52,443.16 L471.98,443.36 L472.44,443.56 L472.69,443.31 L472.85,442.83 L473.01,442.36 L473.16,441.88 L473.32,441.41 L473.47,440.93 L473.63,440.46 L473.79,439.98 L473.94,439.51 L474.26,439.21 L474.75,439.09 L475.23,438.97 L475.72,438.85 L476.21,438.73 L476.48,438.33 L476.73,437.89 L476.99,437.46 L477.24,437.03 L477.70,436.95 L478.20,436.94 L478.70,436.93 L479.20,436.92 L479.70,436.91 L480.20,436.90 L480.70,436.89 L481.19,436.84 L481.68,436.73 L482.16,436.61 L482.65,436.49 L483.13,436.37 L483.19,435.88 L483.24,435.38 L483.34,434.90 L483.67,434.53 L484.00,434.15 L484.34,433.78 L484.67,433.41 L485.00,433.04 L485.34,432.66 L485.67,432.29 L486.00,431.92 L486.40,431.63 L486.85,431.42 L487.30,431.20 L487.73,430.95 L488.15,430.67 L488.56,430.38 L488.97,430.10 L489.38,429.82 L489.79,429.53 L490.27,429.47 L490.77,429.50 L491.24,429.44 L491.59,429.09 L491.94,428.73 L492.29,428.38 L492.64,428.02 L492.99,427.66 L493.34,427.31 L493.69,426.95 L494.04,426.59 L494.39,426.24 L494.74,425.88 L495.06,425.65 L495.18,426.14 L495.29,426.62 L495.46,426.57 L495.67,426.11 L495.87,425.66 L496.08,425.20 L496.29,424.75 L496.49,424.29 L496.70,423.84 L496.91,423.38 L497.11,422.92 L497.32,422.47 L497.53,422.01 L497.73,421.56 L498.22,421.48 L498.71,421.42 L499.21,421.36 L499.71,421.30 L500.20,421.24 L500.41,420.80 L500.61,420.34 L500.81,419.88 L501.00,419.42 L501.20,418.96 L501.40,418.50 L501.68,418.15 L502.17,418.03 L502.66,417.92 L503.14,417.81 L503.63,417.69 L503.93,417.35 L504.15,416.90 L504.37,416.45 L504.60,416.00 L504.82,415.55 L505.04,415.10 L505.26,414.66 L505.48,414.21 L505.81,413.86 L506.25,413.62 L506.68,413.37 L507.12,413.12 L507.55,412.87 L507.91,412.56 L508.12,412.10 L508.33,411.65 L508.54,411.19 L508.75,410.74 L508.96,410.29 L509.17,409.83 L509.58,409.62 L510.06,409.48 L510.54,409.34 L511.02,409.20 L511.50,409.07 L511.85,408.74 L512.14,408.33 L512.43,407.93 L512.71,407.52 L513.00,407.11 L513.29,406.70 L513.57,406.29 L513.89,405.91 L514.33,405.67 L514.77,405.43 L515.20,405.18 L515.64,404.94 L515.87,404.51 L516.05,404.05 L516.24,403.58 L516.42,403.12 L516.61,402.65 L516.79,402.19 L516.97,401.72 L517.16,401.26 L517.34,400.79 L517.53,400.33 L517.71,399.86 L517.89,399.40 L518.28,399.28 L518.78,399.33 L519.28,399.38 L519.76,399.41 L519.95,398.95 L520.14,398.48 L520.33,398.02 L520.53,397.56 L520.72,397.10 L520.91,396.64 L521.10,396.18 L521.30,395.72 L521.49,395.25 L521.68,394.79 L521.87,394.33 L522.06,393.87 L522.26,393.41 L522.48,392.96 L522.74,392.54 L523.01,392.11 L523.27,391.69 L523.54,391.26 L523.79,390.84 L524.03,390.39 L524.26,389.95 L524.50,389.51 L524.73,389.07 L524.97,388.63 L525.20,388.19 L525.44,387.75 L525.67,387.30 L525.95,386.90 L526.34,386.58 L526.73,386.27 L527.12,385.95 L527.50,385.64 L527.75,385.21 L528.00,384.77 L528.24,384.33 L528.49,383.90 L528.73,383.46 L528.97,383.02 L529.22,382.59 L529.46,382.15 L529.74,381.74 L530.07,381.36 L530.40,380.99 L530.73,380.61 L531.06,380.24 L531.43,379.91 L531.83,379.60 L532.23,379.30 L532.62,378.99 L533.02,378.69 L533.41,378.38 L533.81,378.08 L534.21,377.77 L534.42,377.32 L534.61,376.86 L534.81,376.40 L535.01,375.94 L535.20,375.48 L535.57,375.16 L535.98,374.87 L536.38,374.58 L536.79,374.28 L537.19,373.99 L537.63,373.80 L538.13,373.82 L538.63,373.85 L539.13,373.87 L539.62,373.90 L540.12,373.93 L540.41,373.52 L540.69,373.11 L540.96,372.69 L541.24,372.28 L541.52,371.86 L541.80,371.45 L542.08,371.03 L542.50,370.87 L543.00,370.84 L543.50,370.80 L543.82,370.50 L544.04,370.05 L544.25,369.60 L544.47,369.14 L544.69,368.69 L545.15,368.75 L545.64,368.86 L546.12,368.97 L546.61,369.08 L547.10,369.19 L547.59,369.30 L548.07,369.41 L548.55,369.32 L549.03,369.18 L549.51,369.04 L549.99,368.90 L550.22,369.26 L550.39,369.73 L550.57,370.20 L550.74,370.67 L550.91,371.14 L551.11,371.57 L551.61,371.54 L552.11,371.50 L552.61,371.47 L553.10,371.43 L553.60,371.40 L554.10,371.36 L554.45,371.55 L554.61,372.02 L554.77,372.50 L554.93,372.97 L555.08,373.45 L555.24,373.92 L555.40,374.40 L555.64,374.81 L556.04,375.12 L556.43,375.43 L556.82,375.74 L557.21,376.05 L557.61,376.35 L558.01,376.65 L558.41,376.95 L558.81,377.26 L559.21,377.56 L559.61,377.86 L560.00,378.17 L560.29,378.57 L560.58,378.98 L560.87,379.39 L561.16,379.80 L561.45,380.20 L561.74,380.61 L561.98,381.05 L562.21,381.49 L562.44,381.94 L562.66,382.38 L562.89,382.83 L563.12,383.27 L563.35,383.72 L563.57,384.16 L563.80,384.61 L564.03,385.05 L564.29,385.48 L564.54,385.91 L564.80,386.34 L565.09,386.74 L565.43,387.11 L565.78,387.47 L566.12,387.83 L566.47,388.19 L566.81,388.56 L567.15,388.92 L567.50,389.28 L567.84,389.65 L568.19,390.01 L568.53,390.37 L568.87,390.73 L569.07,391.17 L569.18,391.66 L569.28,392.15 L569.38,392.64 L569.48,393.13 L569.61,393.61 L569.80,394.08 L569.98,394.54 L570.17,395.00 L570.36,395.47 L570.55,395.93 L570.73,396.40 L570.92,396.86 L571.28,397.12 L571.77,397.23 L572.26,397.34 L572.75,397.45 L573.24,397.56 L573.72,397.67 L574.21,397.78 L574.50,398.15 L574.75,398.59 L575.00,399.02 L575.25,399.46 L575.49,399.89 L575.76,400.30 L576.18,400.58 L576.60,400.86 L577.01,401.14 L577.43,401.41 L577.84,401.69 L578.27,401.94 L578.73,402.15 L579.19,402.35 L579.64,402.56 L580.11,402.74 L580.58,402.91 L581.05,403.08 L581.52,403.26 L581.95,403.47 L582.28,403.85 L582.61,404.23 L582.93,404.61 L583.26,404.99 L583.59,405.37 L583.91,405.74 L584.22,405.71 L584.52,405.31 L584.81,404.90 L585.10,404.50 L585.40,404.09 L585.73,404.25 L586.07,404.62 L586.41,404.98 L586.75,405.35 L587.09,405.71 L587.43,406.08 L587.78,406.44 L588.12,406.81 L588.38,406.85 L588.53,406.37 L588.67,405.89 L588.82,405.42 L588.96,404.94 L589.11,404.46 L589.25,403.98 L589.39,403.50 L589.54,403.02 L589.76,402.59 L590.14,402.27 L590.52,401.95 L590.90,401.63 L591.29,401.30 L591.54,400.89 L591.75,400.43 L591.95,399.97 L592.15,399.52 L592.36,399.06 L592.56,398.60 L592.76,398.15 L592.97,397.69 L593.17,397.23 L593.37,396.78 L593.58,396.32 L593.78,395.86 L594.00,395.47 L594.38,395.80 L594.75,396.13 L595.13,396.45 L595.51,396.78 L595.88,397.11 L596.22,397.28 L596.38,396.81 L596.55,396.34 L596.71,395.86 L596.87,395.39 L597.03,394.92 L597.20,394.45 L597.36,393.97 L597.52,393.50 L597.69,393.03 L597.84,392.55 L597.98,392.07 L598.12,391.59 L598.26,391.11 L598.40,390.63 L598.54,390.15 L598.68,389.67 L598.82,389.19 L598.96,388.71 L599.10,388.23 L599.24,387.75 L599.38,387.27 L599.65,386.86 L599.95,386.46 L600.25,386.06 L600.55,385.66 L600.85,385.26 L601.15,384.86 L601.45,384.46 L601.75,384.06 L602.05,383.66 L602.30,383.24 L602.36,382.74 L602.42,382.25 L602.47,381.75 L602.53,381.25 L602.59,380.76 L602.64,380.26 L602.70,379.76 L602.76,379.27 L602.81,378.77 L602.87,378.27 L603.02,377.80 L603.18,377.32 L603.33,376.84 L603.48,376.37 L603.63,375.89 L603.78,375.42 L603.94,374.94 L604.09,374.46 L604.24,373.99 L604.39,373.51 L604.54,373.03 L604.70,372.56 L604.85,372.08 L605.00,371.60 L605.15,371.13 L605.31,370.65 L605.57,370.23 L605.83,369.80 L606.09,369.38 L606.36,368.95 L606.62,368.52 L606.88,368.10 L607.14,367.67 L607.41,367.25 L607.67,366.82 L607.93,366.40 L608.01,365.91 L608.08,365.41 L608.15,364.92 L608.22,364.42 L608.29,363.93 L608.36,363.43 L608.42,362.93 L608.49,362.44 L608.56,361.94 L608.63,361.45 L608.70,360.95 L608.77,360.46 L608.84,359.96 L608.91,359.47 L608.98,358.97 L609.05,358.48 L609.14,357.99 L609.43,357.59 L609.72,357.18 L610.01,356.77 L610.30,356.36 L610.58,355.95 L610.87,355.54 L611.16,355.14 L611.45,354.73 L611.74,354.32 L611.97,353.89 L612.08,353.40 L612.18,352.91 L612.29,352.42 L612.39,351.93 L612.50,351.44 L612.60,350.95 L612.71,350.46 L612.81,349.98 L612.92,349.49 L613.02,349.00 L613.13,348.51 L613.23,348.02 L613.34,347.53 L613.44,347.04 L613.55,346.55 L613.65,346.06 L613.76,345.58 L613.86,345.09 L614.05,344.62 L614.26,344.17 L614.47,343.72 L614.68,343.26 L614.89,342.81 L615.10,342.36 L615.31,341.90 L615.52,341.45 L615.72,340.99 L615.93,340.54 L616.14,340.09 L616.35,339.63 L616.49,339.16 L616.54,338.66 L616.58,338.16 L616.63,337.66 L616.68,337.17 L616.73,336.67 L616.78,336.17 L616.83,335.67 L616.88,335.18 L616.93,334.68 L616.98,334.18 L617.03,333.68 L617.08,333.19 L617.13,332.69 L617.18,332.19 L617.23,331.69 L617.28,331.20 L617.33,330.70 L617.39,330.20 L617.49,329.71 L617.60,329.22 L617.70,328.74 L617.81,328.25 L617.92,327.76 L618.02,327.27 L618.13,326.78 L618.24,326.29 L618.34,325.80 L618.45,325.32 L618.56,324.83 L618.66,324.34 L618.77,323.85 L618.87,323.36 L618.98,322.87 L619.09,322.38 L619.19,321.90 L619.30,321.41 L619.41,320.92 L619.51,320.43 L619.64,319.95 L619.77,319.46 L619.90,318.98 L620.03,318.50 L620.17,318.02 L620.30,317.54 L620.43,317.05 L620.56,316.57 L620.69,316.09 L620.83,315.61 L620.96,315.12 L621.09,314.64 L621.22,314.16 L621.35,313.68 L621.49,313.20 L621.62,312.71 L621.75,312.23 L621.88,311.75 L622.02,311.27 L622.12,310.78 L622.14,310.28 L622.15,309.78 L622.17,309.28 L622.18,308.78 L622.20,308.28 L622.21,307.78 L622.23,307.28 L622.24,306.78 L622.26,306.28 L622.27,305.78 L622.29,305.28 L622.30,304.78 L622.32,304.28 L622.33,303.78 L622.35,303.28 L622.36,302.78 L622.38,302.28 L622.39,301.78 L622.40,301.29 L622.42,300.79 L622.43,300.29 L622.47,299.79 L622.67,299.33 L622.88,298.88 L623.08,298.42 L623.28,297.96 L623.49,297.51 L623.69,297.05 L623.89,296.59 L624.10,296.14 L624.30,295.68 L624.50,295.22 L624.71,294.77 L624.91,294.31 L625.11,293.85 L625.32,293.40 L625.52,292.94 L625.72,292.48 L625.93,292.02 L626.13,291.57 L626.33,291.11 L626.54,290.65 L626.74,290.20 L626.94,289.74 L627.15,289.28 L627.35,288.83 L627.55,288.37 L627.76,287.91 L627.77,287.42 L627.75,286.92 L627.74,286.42 L627.72,285.92 L627.71,285.42 L627.69,284.92 L627.68,284.42 L627.66,283.92 L627.65,283.42 L627.63,282.92 L627.62,282.42 L627.60,281.92 L627.59,281.42 L627.57,280.92 L627.56,280.42 L627.54,279.92 L627.52,279.42 L627.51,278.92 L627.55,278.43 L627.63,277.93 L627.71,277.44 L627.79,276.95 L627.87,276.45 L627.95,275.96 L628.03,275.47 L628.11,274.97 L628.19,274.48 L628.28,273.99 L628.36,273.49 L628.44,273.00 L628.52,272.51 L628.60,272.01 L628.68,271.52 L628.76,271.03 L628.84,270.53 L628.92,270.04 L629.00,269.55 L629.08,269.05 L629.16,268.56 L629.25,268.07 L629.33,267.57 L629.41,267.08 L629.49,266.59 L629.62,266.10 L629.75,265.62 L629.88,265.14 L630.01,264.65 L630.14,264.17 L630.27,263.69 L630.40,263.21 L630.53,262.72 L630.66,262.24 L630.79,261.76 L630.92,261.27 L631.05,260.79 L631.18,260.31 L631.31,259.83 L631.44,259.34 L631.57,258.86 L631.70,258.38 L631.83,257.90 L631.96,257.41 L632.09,256.93 L632.22,256.45 L632.35,255.96 L632.46,255.48 L632.53,254.98 L632.59,254.49 L632.66,253.99 L632.72,253.49 L632.79,253.00 L632.85,252.50 L632.92,252.01 L632.98,251.51 L633.05,251.02 L633.12,250.52 L633.18,250.02 L633.25,249.53 L633.31,249.03 L633.38,248.54 L633.44,248.04 L633.51,247.55 L633.58,247.05 L633.64,246.55 L633.71,246.06 L633.77,245.56 L633.84,245.07 L633.90,244.57 L633.94,244.07 L633.99,243.58 L634.03,243.08 L634.07,242.58 L634.12,242.08 L634.16,241.58 L634.20,241.08 L634.24,240.59 L634.29,240.09 L634.33,239.59 L634.37,239.09 L634.41,238.59 L634.46,238.10 L634.50,237.60 L634.54,237.10 L634.58,236.60 L634.63,236.10 L634.67,235.60 L634.71,235.11 L634.76,234.61 L634.80,234.11 L634.84,233.61 L634.96,233.13 L635.12,232.65 L635.27,232.18 L635.43,231.70 L635.58,231.23 L635.74,230.75 L635.89,230.28 L636.05,229.80 L636.20,229.33 L636.36,228.85 L636.52,228.38 L636.67,227.90 L636.83,227.43 L636.98,226.95 L637.14,226.48 L637.29,226.00 L637.45,225.53 L637.60,225.05 L637.76,224.58 L637.91,224.10 L638.07,223.63 L638.23,223.15 L638.35,222.67 L638.44,222.18 L638.54,221.68 L638.63,221.19 L638.73,220.70 L638.82,220.21 L638.92,219.72 L639.02,219.23 L639.11,218.74 L639.21,218.25 L639.30,217.76 L639.40,217.27 L639.49,216.78 L639.59,216.29 L639.68,215.79 L639.78,215.30 L639.87,214.81 L639.97,214.32 L640.06,213.83 L640.16,213.34 L640.25,212.85 L640.35,212.36 L640.44,211.87 L640.49,211.37 L640.53,210.87 L640.58,210.37 L640.62,209.88 L640.67,209.38 L640.72,208.88 L640.76,208.38 L640.81,207.88 L640.86,207.39 L640.90,206.89 L640.95,206.39 L641.00,205.89 L641.04,205.40 L641.09,204.90 L641.13,204.40 L641.18,203.90 L641.23,203.40 L641.27,202.91 L641.32,202.41 L641.37,201.91 L641.41,201.41 L641.46,200.91 L641.50,200.42 L641.55,199.92 L641.60,199.42 L641.64,198.92 L641.74,198.43 L641.85,197.94 L641.95,197.46 L642.06,196.97 L642.17,196.48 L642.27,195.99 L642.38,195.50 L642.49,195.01 L642.59,194.53 L642.70,194.04 L642.81,193.55 L642.91,193.06 L643.02,192.57 L643.13,192.08 L643.23,191.59 L643.34,191.11 L643.45,190.62 L643.55,190.13 L643.66,189.64 L643.76,189.15 L643.85,188.66 L643.93,188.17 L644.01,187.67 L644.09,187.18 L644.18,186.69 L644.26,186.19 L644.34,185.70 L644.43,185.21 L644.51,184.71 L644.59,184.22 L644.67,183.73 L644.76,183.23 L644.84,182.74 L644.92,182.25 L645.00,181.75 L645.09,181.26 L645.17,180.77 L645.25,180.28 L645.34,179.78 L645.42,179.29 L645.50,178.80 L645.58,178.30 L645.67,177.81 L645.75,177.32 L645.83,176.82 L645.91,176.33 L646.00,175.84 L646.08,175.34 L646.16,174.85 L646.24,174.36 L646.30,173.86 L646.36,173.36 L646.42,172.87 L646.48,172.37 L646.54,171.88 L646.60,171.38 L646.66,170.88 L646.72,170.39 L646.78,169.89 L646.84,169.39 L646.91,168.90 L646.97,168.40 L647.03,167.91 L647.09,167.41 L647.15,166.91 L647.21,166.42 L647.27,165.92 L647.33,165.42 L647.40,164.93 L647.52,164.44 L647.63,163.95 L647.74,163.47 L647.85,162.98 L647.96,162.49 L648.08,162.01 L648.19,161.52 L648.30,161.03 L648.41,160.54 L648.52,160.06 L648.64,159.57 L648.75,159.08 L648.86,158.59 L648.97,158.11 L649.08,157.62 L649.20,157.13 L649.31,156.65 L649.42,156.16 L649.53,155.67 L649.64,155.18 L649.76,154.70 L649.87,154.21 L649.98,153.72 L650.09,153.23 L650.20,152.75 L650.28,152.25 L650.36,151.76 L650.45,151.27 L650.53,150.77 L650.61,150.28 L650.69,149.79 L650.77,149.29 L650.86,148.80 L650.94,148.31 L651.02,147.81 L651.10,147.32 L651.19,146.83 L651.27,146.33 L651.35,145.84 L651.43,145.35 L651.51,144.85 L651.60,144.36 L651.68,143.87 L651.76,143.38 L651.84,142.88 L651.93,142.39 L652.01,141.90 L652.08,141.40 L652.14,140.90 L652.19,140.41 L652.25,139.91 L652.31,139.41 L652.37,138.92 L652.43,138.42 L652.49,137.93 L652.55,137.43 L652.61,136.93 L652.67,136.44 L652.73,135.94 L652.79,135.44 L652.85,134.95 L652.90,134.45 L652.96,133.95 L653.02,133.46 L653.08,132.96 L653.14,132.46 L653.20,131.97 L653.26,131.47 L653.32,130.97 L653.38,130.48 L653.44,129.98 L653.50,129.48 L653.56,128.99 L653.63,128.49 L653.70,128.00 L653.77,127.50 L653.84,127.01 L653.91,126.51 L653.99,126.02 L654.06,125.52 L654.13,125.03 L654.20,124.53 L654.27,124.04 L654.34,123.54 L654.41,123.05 L654.48,122.55 L654.55,122.06 L654.62,121.56 L654.69,121.07 L654.76,120.57 L654.83,120.08 L654.90,119.58 L654.97,119.09 L655.04,118.59 L655.13,118.10 L655.23,117.61 L655.33,117.12 L655.43,116.63 L655.54,116.14 L655.64,115.65 L655.74,115.17 L655.85,114.68 L655.95,114.19 L656.05,113.70 L656.15,113.21 L656.26,112.72 L656.36,112.23 L656.46,111.74 L656.57,111.25 L656.67,110.76 L656.77,110.27 L656.87,109.78 L656.98,109.29 L657.08,108.80 L657.18,108.32 L657.29,107.83 L657.39,107.34 L657.49,106.85 L657.59,106.36 L657.70,105.87 L657.80,105.38 L657.88,104.89 L657.95,104.39 L658.03,103.90 L658.11,103.40 L658.19,102.91 L658.27,102.42 L658.35,101.92 L658.42,101.43 L658.50,100.93 L658.58,100.44 L658.66,99.95 L658.74,99.45 L658.82,98.96 L658.89,98.47 L658.97,97.97 L659.05,97.48 L659.13,96.98 L659.21,96.49 L659.29,96.00 L659.36,95.50 L659.48,95.02 L659.62,94.54 L659.76,94.06 L659.90,93.58 L660.04,93.10 L660.18,92.62 L660.32,92.14 L660.46,91.66 L660.60,91.18 L660.73,90.70 L660.87,90.22 L661.01,89.74 L661.15,89.26 L661.29,88.78 L661.43,88.30 L661.57,87.82 L661.71,87.33 L661.85,86.85 L661.99,86.37 L662.13,85.89 L662.27,85.41 L662.41,84.93 L662.54,84.45 L662.64,83.96 L662.73,83.47 L662.83,82.98 L662.92,82.49 L663.02,82.00 L663.11,81.51 L663.21,81.02 L663.30,80.53 L663.40,80.03 L663.50,79.54 L663.59,79.05 L663.69,78.56 L663.78,78.07 L663.88,77.58 L663.97,77.09 L664.09,76.60 L664.21,76.12 L664.33,75.63 L664.46,75.15 L664.58,74.67 L664.71,74.18 L664.83,73.70 L664.95,73.21 L665.08,72.73 L665.20,72.24 L665.33,71.76 L665.45,71.28 L665.58,70.79 L665.70,70.31 L665.82,69.82 L665.95,69.34 L666.07,68.85 L666.20,68.37 L666.32,67.88 L666.45,67.40 L666.60,66.92 L666.74,66.45 L666.89,65.97 L667.04,65.49 L667.18,65.01 L667.33,64.53 L667.47,64.06 L667.62,63.58 L667.76,63.10 L667.91,62.62 L668.07,62.14 L668.23,61.67 L668.40,61.20 L668.57,60.73 L668.74,60.26 L668.91,59.79 L669.08,59.32 L669.25,58.85 L669.42,58.38 L669.59,57.91 L669.75,57.44 L669.92,56.97 L670.10,56.50 L670.42,56.12 L670.74,55.74 L671.06,55.35 L671.38,54.97 L671.68,54.56 L671.96,54.15 L672.25,53.74 L672.54,53.33 L672.82,52.92 L673.11,52.51 L673.40,52.10 L673.68,51.69 L673.97,51.28 L674.26,50.88 L674.66,50.61 L675.11,50.38 L675.56,50.16 L676.01,49.94 L676.45,49.71 L676.90,49.49 L677.15,49.08 L677.35,48.62 L677.54,48.16 L677.74,47.72 L677.93,48.18 L678.13,48.64 L678.32,49.11 L678.52,49.57 L678.71,50.03 L678.90,50.49 L679.10,50.95 L679.29,51.41 L679.48,51.87 L679.81,51.91 L680.23,51.64 L680.65,51.37 L681.07,51.10 L681.48,50.82 L681.88,50.67 L682.18,51.08 L682.48,51.48 L682.78,51.88 L683.08,52.28 L683.38,52.68 L683.65,53.09 L683.78,53.57 L683.91,54.06 L684.04,54.54 L684.16,55.02 L684.29,55.51 L684.42,55.99 L684.55,56.47 L684.67,56.96 L684.80,57.44 L684.93,57.92 L685.06,58.41 L685.18,58.89 L685.31,59.37 L685.44,59.86 L685.55,60.35 L685.63,60.84 L685.72,61.33 L685.81,61.82 L685.90,62.31 L685.99,62.81 L686.08,63.30 L686.16,63.79 L686.25,64.28 L686.34,64.77 L686.43,65.27 L686.52,65.76 L686.61,66.25 L686.69,66.74 L686.78,67.24 L686.87,67.73 L686.96,68.22 L687.05,68.71 L687.14,69.20 L687.23,69.70 L687.31,70.19 L687.40,70.68 L687.49,71.17 L687.58,71.66 L687.67,72.16 L687.76,72.65 L687.84,73.14 L687.93,73.63 L688.05,74.12 L688.29,74.55 L688.53,74.99 L688.78,75.43 L689.02,75.87 L689.26,76.30 L689.50,76.74 L689.74,77.18 L689.93,77.64 L690.12,78.10 L690.31,78.57 L690.49,79.03 L690.68,79.50 L690.87,79.96 L691.05,80.42 L691.24,80.89 L691.43,81.35 L691.62,81.81 L691.80,82.28 L691.99,82.74 L692.18,83.21 L692.36,83.67 L692.55,84.13 L692.74,84.60 L692.81,85.09 L692.85,85.58 L692.89,86.08 L692.93,86.58 L692.97,87.08 L693.01,87.58 L693.04,88.08 L693.08,88.58 L693.12,89.07 L693.16,89.57 L693.20,90.07 L693.24,90.57 L693.27,91.07 L693.31,91.57 L693.35,92.07 L693.39,92.56 L693.43,93.06 L693.47,93.56 L693.51,94.06 L693.54,94.56 L693.58,95.06 L693.62,95.55 L693.66,96.05 L693.70,96.55 L693.74,97.05 L693.77,97.55 L693.81,98.05 L693.85,98.55 L693.89,99.04 L693.94,99.54 L694.02,100.03 L694.11,100.53 L694.20,101.02 L694.29,101.51 L694.38,102.00 L694.47,102.49 L694.55,102.99 L694.64,103.48 L694.73,103.97 L694.82,104.46 L694.91,104.96 L695.00,105.45 L695.08,105.94 L695.17,106.43 L695.26,106.92 L695.35,107.42 L695.44,107.91 L695.53,108.40 L695.61,108.89 L695.70,109.38 L695.79,109.88 L695.88,110.37 L695.97,110.86 L696.06,111.35 L696.16,111.84 L696.29,112.32 L696.43,112.81 L696.56,113.29 L696.70,113.77 L696.83,114.25 L696.97,114.73 L697.10,115.21 L697.23,115.69 L697.37,116.18 L697.50,116.66 L697.64,117.14 L697.77,117.62 L697.91,118.10 L698.04,118.58 L698.18,119.07 L698.31,119.55 L698.45,120.03 L698.53,120.52 L698.59,121.02 L698.65,121.51 L698.71,122.01 L698.77,122.51 L698.82,123.00 L698.88,123.50 L698.94,124.00 L699.00,124.49 L699.06,124.99 L699.12,125.49 L699.18,125.98 L699.24,126.48 L699.29,126.97 L699.35,127.47 L699.41,127.97 L699.47,128.46 L699.53,128.96 L699.59,129.46 L699.65,129.95 L699.71,130.45 L699.79,130.94 L699.91,131.43 L700.04,131.91 L700.16,132.40 L700.28,132.88 L700.41,133.37 L700.53,133.85 L700.65,134.33 L700.78,134.82 L700.90,135.30 L701.02,135.79 L701.15,136.27 L701.27,136.76 L701.39,137.24 L701.52,137.73 L701.64,138.21 L701.77,138.69 L701.89,139.18 L702.01,139.66 L702.14,140.15 L702.26,140.63 L702.38,141.12 L702.51,141.60 L702.63,142.09 L702.75,142.57 L702.80,143.07 L702.83,143.57 L702.85,144.07 L702.88,144.56 L702.90,145.06 L702.93,145.56 L702.95,146.06 L702.97,146.56 L703.00,147.06 L703.02,147.56 L703.05,148.06 L703.07,148.56 L703.10,149.06 L703.12,149.56 L703.15,150.06 L703.17,150.56 L703.20,151.06 L703.22,151.56 L703.25,152.06 L703.27,152.55 L703.29,153.05 L703.32,153.55 L703.34,154.05 L703.37,154.55 L703.39,155.05 L703.42,155.55 L703.44,156.05 L703.47,156.55 L703.49,157.05 L703.52,157.55 L703.54,158.05 L703.61,158.54 L703.69,159.04 L703.77,159.53 L703.84,160.02 L703.92,160.52 L704.00,161.01 L704.08,161.51 L704.15,162.00 L704.23,162.50 L704.31,162.99 L704.38,163.48 L704.46,163.98 L704.54,164.47 L704.61,164.97 L704.69,165.46 L704.77,165.95 L704.85,166.45 L704.92,166.94 L705.00,167.44 L705.08,167.93 L705.15,168.42 L705.23,168.92 L705.31,169.41 L705.38,169.91 L705.46,170.40 L705.52,170.90 L705.59,171.39 L705.65,171.89 L705.72,172.38 L705.78,172.88 L705.84,173.38 L705.91,173.87 L705.97,174.37 L706.04,174.86 L706.10,175.36 L706.17,175.85 L706.23,176.35 L706.30,176.85 L706.36,177.34 L706.43,177.84 L706.49,178.33 L706.56,178.83 L706.62,179.32 L706.68,179.82 L706.75,180.32 L706.81,180.81 L706.88,181.31 L706.94,181.80 L707.01,182.30 L707.07,182.80 L707.14,183.29 L707.20,183.79 L707.27,184.28 L707.33,184.78 L707.40,185.27 L707.46,185.77 L707.52,186.27 L707.59,186.76 L707.65,187.26 L707.72,187.75 L707.80,188.25 L707.87,188.74 L707.95,189.24 L708.02,189.73 L708.09,190.23 L708.17,190.72 L708.24,191.21 L708.32,191.71 L708.39,192.20 L708.47,192.70 L708.54,193.19 L708.62,193.69 L708.69,194.18 L708.77,194.67 L708.84,195.17 L708.92,195.66 L708.99,196.16 L709.06,196.65 L709.14,197.15 L709.21,197.64 L709.29,198.14 L709.36,198.63 L709.44,199.12 L709.51,199.62 L709.59,200.11 L709.66,200.61 L709.74,201.10 L709.81,201.60 L709.87,202.09 L709.91,202.59 L709.95,203.09 L709.99,203.59 L710.03,204.09 L710.07,204.58 L710.11,205.08 L710.15,205.58 L710.19,206.08 L710.23,206.58 L710.27,207.08 L710.31,207.57 L710.35,208.07 L710.39,208.57 L710.43,209.07 L710.47,209.57 L710.51,210.07 L710.55,210.57 L710.59,211.06 L710.63,211.56 L710.67,212.06 L710.71,212.56 L710.75,213.06 L710.79,213.56 L710.83,214.05 L710.87,214.55 L710.91,215.05 L710.95,215.55 L710.99,216.05 L711.03,216.55 L711.07,217.04 L711.17,217.54 L711.27,218.02 L711.37,218.51 L711.47,219.00 L711.58,219.49 L711.68,219.98 L711.78,220.47 L711.88,220.96 L711.99,221.45 L712.09,221.94 L712.19,222.43 L712.29,222.92 L712.39,223.41 L712.50,223.90 L712.60,224.39 L712.70,224.88 L712.80,225.37 L712.91,225.85 L713.01,226.34 L713.11,226.83 L713.21,227.32 L713.32,227.81 L713.42,228.30 L713.52,228.79 L713.62,229.28 L713.73,229.77 L713.83,230.26 L713.91,230.75 L713.96,231.25 L714.00,231.75 L714.05,232.25 L714.09,232.74 L714.14,233.24 L714.18,233.74 L714.23,234.24 L714.27,234.74 L714.32,235.23 L714.36,235.73 L714.40,236.23 L714.45,236.73 L714.49,237.23 L714.54,237.72 L714.58,238.22 L714.63,238.72 L714.67,239.22 L714.72,239.72 L714.76,240.21 L714.81,240.71 L714.85,241.21 L714.89,241.71 L714.98,242.20 L715.14,242.67 L715.31,243.14 L715.47,243.62 L715.63,244.09 L715.79,244.56 L715.95,245.04 L716.11,245.51 L716.27,245.98 L716.43,246.46 L716.59,246.93 L716.75,247.40 L716.91,247.88 L717.07,248.35 L717.23,248.82 L717.40,249.30 L717.56,249.77 L717.72,250.24 L717.88,250.72 L718.04,251.19 L718.20,251.66 L718.36,252.14 L718.52,252.61 L718.68,253.09 L718.79,253.57 L718.84,254.07 L718.89,254.57 L718.94,255.06 L718.99,255.56 L719.05,256.06 L719.10,256.55 L719.15,257.05 L719.20,257.55 L719.26,258.05 L719.31,258.54 L719.36,259.04 L719.41,259.54 L719.47,260.04 L719.52,260.53 L719.57,261.03 L719.62,261.53 L719.67,262.02 L719.73,262.52 L719.78,263.02 L719.83,263.52 L719.90,264.01 L720.05,264.49 L720.19,264.97 L720.34,265.44 L720.48,265.92 L720.63,266.40 L720.77,266.88 L720.92,267.36 L721.07,267.84 L721.21,268.32 L721.36,268.79 L721.50,269.27 L721.51,269.29" stroke="#0000ff" stroke-width="2.4"/>
</g>
<path d="M75,0h732v1h-732zM75,525h732v1h-732zM75,0h1v526h-1zM806,0h1v526h-1zM96,523h1v2h-1zM96,1h1v2h-1zM116,522h1v3h-1zM116,1h1v3h-1zM136,523h1v2h-1zM136,1h1v2h-1zM157,523h1v2h-1zM157,1h1v2h-1zM177,523h1v2h-1zM177,1h1v2h-1zM197,523h1v2h-1zM197,1h1v2h-1zM218,522h1v3h-1zM218,1h1v3h-1zM238,523h1v2h-1zM238,1h1v2h-1zM258,523h1v2h-1zM258,1h1v2h-1zM279,523h1v2h-1zM279,1h1v2h-1zM299,523h1v2h-1zM299,1h1v2h-1zM319,522h1v3h-1zM319,1h1v3h-1zM340,523h1v2h-1zM340,1h1v2h-1zM360,523h1v2h-1zM360,1h1v2h-1zM380,523h1v2h-1zM380,1h1v2h-1zM401,523h1v2h-1zM401,1h1v2h-1zM421,522h1v3h-1zM421,1h1v3h-1zM441,523h1v2h-1zM441,1h1v2h-1zM461,523h1v2h-1zM461,1h1v2h-1zM482,523h1v2h-1zM482,1h1v2h-1zM502,523h1v2h-1zM502,1h1v2h-1zM522,522h1v3h-1zM522,1h1v3h-1zM543,523h1v2h-1zM543,1h1v2h-1zM563,523h1v2h-1zM563,1h1v2h-1zM583,523h1v2h-1zM583,1h1v2h-1zM604,523h1v2h-1zM604,1h1v2h-1zM624,522h1v3h-1zM624,1h1v3h-1zM644,523h1v2h-1zM644,1h1v2h-1zM665,523h1v2h-1zM665,1h1v2h-1zM685,523h1v2h-1zM685,1h1v2h-1zM705,523h1v2h-1zM705,1h1v2h-1zM725,522h1v3h-1zM725,1h1v3h-1zM746,523h1v2h-1zM746,1h1v2h-1zM766,523h1v2h-1zM766,1h1v2h-1zM786,523h1v2h-1zM786,1h1v2h-1zM76,510h2v1h-2zM804,510h2v1h-2zM76,496h2v1h-2zM804,496h2v1h-2zM76,481h2v1h-2zM804,481h2v1h-2zM76,467h2v1h-2zM804,467h2v1h-2zM76,452h3v1h-3zM803,452h3v1h-3zM76,438h2v1h-2zM804,438h2v1h-2zM76,423h2v1h-2zM804,423h2v1h-2zM76,408h2v1h-2zM804,408h2v1h-2zM76,394h2v1h-2zM804,394h2v1h-2zM76,379h3v1h-3zM803,379h3v1h-3zM76,365h2v1h-2zM804,365h2v1h-2zM76,350h2v1h-2zM804,350h2v1h-2zM76,336h2v1h-2zM804,336h2v1h-2zM76,321h2v1h-2zM804,321h2v1h-2zM76,306h3v1h-3zM803,306h3v1h-3zM76,292h2v1h-2zM804,292h2v1h-2zM76,277h2v1h-2zM804,277h2v1h-2zM76,263h2v1h-2zM804,263h2v1h-2zM76,248h2v1h-2zM804,248h2v1h-2zM76,234h3v1h-3zM803,234h3v1h-3zM76,219h2v1h-2zM804,219h2v1h-2zM76,204h2v1h-2zM804,204h2v1h-2zM76,190h2v1h-2zM804,190h2v1h-2zM76,175h2v1h-2zM804,175h2v1h-2zM76,161h3v1h-3zM803,161h3v1h-3zM76,146h2v1h-2zM804,146h2v1h-2zM76,132h2v1h-2zM804,132h2v1h-2zM76,117h2v1h-2zM804,117h2v1h-2zM76,102h2v1h-2zM804,102h2v1h-2zM76,88h3v1h-3zM803,88h3v1h-3zM76,73h2v1h-2zM804,73h2v1h-2zM76,59h2v1h-2zM804,59h2v1h-2zM76,44h2v1h-2zM804,44h2v1h-2zM76,30h2v1h-2zM804,30h2v1h-2zM76,15h3v1h-3zM803,15h3v1h-3z" fill="#000" shape-rendering="crispEdges"/>
<text transform="translate(67.20,537.50) scale(1,1.04)" font-size="30.0" text-anchor="end">0</text><text transform="translate(67.20,464.70) scale(1,1.04)" font-size="30.0" text-anchor="end"> </text><text transform="translate(67.20,391.90) scale(1,1.04)" font-size="30.0" text-anchor="end">2</text><text transform="translate(67.20,319.10) scale(1,1.04)" font-size="30.0" text-anchor="end">3</text><text transform="translate(67.20,246.30) scale(1,1.04)" font-size="30.0" text-anchor="end">4</text><text transform="translate(67.20,173.50) scale(1,1.04)" font-size="30.0" text-anchor="end">5</text><text transform="translate(67.20,100.70) scale(1,1.04)" font-size="30.0" text-anchor="end">6</text><text transform="translate(67.20,27.90) scale(1,1.04)" font-size="30.0" text-anchor="end">7</text><text transform="translate(116.30,565.20) scale(1,1.04)" font-size="30.0" text-anchor="middle"> 00</text><text transform="translate(217.85,565.20) scale(1,1.04)" font-size="30.0" text-anchor="middle"> 50</text><text transform="translate(319.40,565.20) scale(1,1.04)" font-size="30.0" text-anchor="middle">200</text><text transform="translate(420.95,565.20) scale(1,1.04)" font-size="30.0" text-anchor="middle">250</text><text transform="translate(522.50,565.20) scale(1,1.04)" font-size="30.0" text-anchor="middle">300</text><text transform="translate(624.05,565.20) scale(1,1.04)" font-size="30.0" text-anchor="middle">350</text><text transform="translate(725.60,565.20) scale(1,1.04)" font-size="30.0" text-anchor="middle">400</text>
<text transform="translate(441.00,617.20) scale(1,1.04)" font-size="30.0" text-anchor="middle">T (K)</text>
<text transform="translate(34.3,264.5) rotate(-90) scale(1,1.04)" font-size="31" text-anchor="middle">DLTS signal ( 0<tspan font-size="20.3" dy="-17.8"> 4</tspan><tspan dy="17.8"> cm</tspan><tspan font-size="20.3" dy="-17.8">-3</tspan><tspan dy="17.8">)</tspan></text>
<rect x="214" y="36" width="366" height="92" fill="#fff"/><path d="M214,36h366v92h-366zM215,37v90h364v-90z" fill="#000" fill-rule="evenodd" shape-rendering="crispEdges"/>
<path d="M243,66.9H305.6" stroke="#0000ff" stroke-width="4" stroke-linecap="round"/>
<path d="M242.5,97.3H306.1" stroke="#ff0000" stroke-width="3" stroke-linecap="round" stroke-dasharray="10.8 9.7"/>
<text transform="translate(327.20,73.60) scale(1,1.04)" font-size="27.3">as-grown (layer # )</text><text transform="translate(327.20,104.70) scale(1,1.04)" font-size="27.3">irradiated (layer #2)</text>
<text transform="translate(77.40,224.50) scale(1,1.04)" font-size="30.3">ED (defect)</text><rect x="96" y="375.3" width="163" height="34.3" fill="#fff"/><text transform="translate(96.90,402.60) scale(1,1.04)" font-size="30.3">ED2(defect)</text><text transform="translate(174.20,478.90) scale(1,1.04)" font-size="30.3">D</text><text transform="translate(239.90,452.50) scale(1,1.04)" font-size="30.3">C</text><text transform="translate(330.50,318.50) scale(1,1.04)" font-size="30.3">C<tspan font-size="20.3" dx="0.8" dy="14.3"> </tspan></text><text transform="translate(458.30,418.90) scale(1,1.04)" font-size="30.3">B</text><text transform="translate(539.70,348.10) scale(1,1.04)" font-size="30.3">A</text><text transform="translate(668.60,33.00) scale(1,1.04)" font-size="30.3">A<tspan font-size="20.3" dx="0.95" dy="12.8"> </tspan></text><rect x="657" y="271.8" width="162" height="34.8" fill="#fff"/><text transform="translate(658.50,298.90) scale(1,1.04)" font-size="30.3">AD2(defect)</text>
<g transform="translate(67.20,464.70) scale(1,1.04)"><path transform="translate(-16.68,0.00) scale(0.01465,-0.01409)" d="M763,0L583,0L583,1147Q518,1085 412.5,1023Q307,961 223,930L223,1104Q374,1175 486.5,1276Q599,1377 646,1466L763,1466Z"/></g><g transform="translate(116.30,565.20) scale(1,1.04)"><path transform="translate(-25.02,0.00) scale(0.01465,-0.01409)" d="M763,0L583,0L583,1147Q518,1085 412.5,1023Q307,961 223,930L223,1104Q374,1175 486.5,1276Q599,1377 646,1466L763,1466Z"/></g><g transform="translate(217.85,565.20) scale(1,1.04)"><path transform="translate(-25.02,0.00) scale(0.01465,-0.01409)" d="M763,0L583,0L583,1147Q518,1085 412.5,1023Q307,961 223,930L223,1104Q374,1175 486.5,1276Q599,1377 646,1466L763,1466Z"/></g><g transform="translate(34.3,264.5) rotate(-90) scale(1,1.04)"><path transform="translate(25.03,0.00) scale(0.01514,-0.01455)" d="M763,0L583,0L583,1147Q518,1085 412.5,1023Q307,961 223,930L223,1104Q374,1175 486.5,1276Q599,1377 646,1466L763,1466Z"/></g><g transform="translate(34.3,264.5) rotate(-90) scale(1,1.04)"><path transform="translate(59.51,-17.80) scale(0.00991,-0.00953)" d="M763,0L583,0L583,1147Q518,1085 412.5,1023Q307,961 223,930L223,1104Q374,1175 486.5,1276Q599,1377 646,1466L763,1466Z"/></g><g transform="translate(327.20,73.60) scale(1,1.04)"><path transform="translate(210.84,0.00) scale(0.01333,-0.01282)" d="M763,0L583,0L583,1147Q518,1085 412.5,1023Q307,961 223,930L223,1104Q374,1175 486.5,1276Q599,1377 646,1466L763,1466Z"/></g><g transform="translate(77.40,224.50) scale(1,1.04)"><path transform="translate(42.07,0.00) scale(0.01479,-0.01423)" d="M763,0L583,0L583,1147Q518,1085 412.5,1023Q307,961 223,930L223,1104Q374,1175 486.5,1276Q599,1377 646,1466L763,1466Z"/></g><g transform="translate(330.50,318.50) scale(1,1.04)"><path transform="translate(22.69,14.30) scale(0.00991,-0.00953)" d="M763,0L583,0L583,1147Q518,1085 412.5,1023Q307,961 223,930L223,1104Q374,1175 486.5,1276Q599,1377 646,1466L763,1466Z"/></g><g transform="translate(668.60,33.00) scale(1,1.04)"><path transform="translate(21.17,12.80) scale(0.00991,-0.00953)" d="M763,0L583,0L583,1147Q518,1085 412.5,1023Q307,961 223,930L223,1104Q374,1175 486.5,1276Q599,1377 646,1466L763,1466Z"/></g>
</svg>
</body></html>
